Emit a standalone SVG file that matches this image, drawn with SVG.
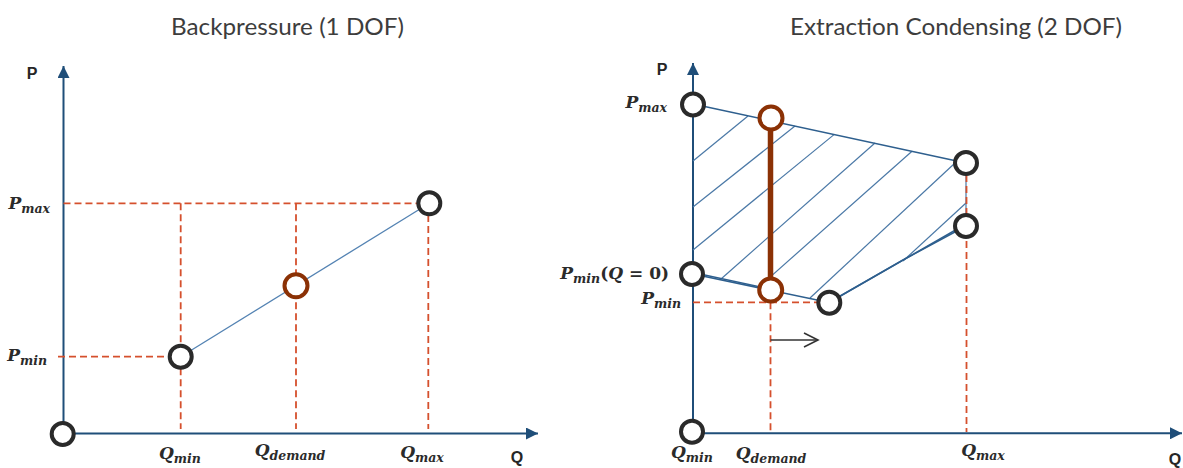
<svg xmlns="http://www.w3.org/2000/svg" width="1183" height="468" viewBox="0 0 1183 468">
<style>
.title{font-family:Lato,"Open Sans",sans-serif;font-size:23.5px;fill:#3d3d3d}
.ax{stroke:#1f4e79;stroke-width:2;fill:none}
.axl{font-family:"Liberation Sans",Arial,sans-serif;font-weight:bold;font-size:16px;fill:#262626}
.m{font-family:"DejaVu Serif",serif;font-weight:bold;font-style:italic;font-size:17px;fill:#2b2b2b}
.s{font-size:12.5px}
.up{font-style:normal}
.dash{stroke:#d5502d;stroke-width:1.8;stroke-dasharray:7 4;fill:none}
.node{fill:#fff;stroke:#2a2a2a;stroke-width:4}
.node-b{fill:#fff;stroke:#8b3105;stroke-width:4}
.edge{stroke:#2e5f8e;stroke-width:1.5;fill:none}
.hatch{stroke:#4a78a6;stroke-width:1.2;fill:none}
.line{stroke:#5483b3;stroke-width:1.3;fill:none}
</style>
<defs>
<marker id="ah" markerUnits="userSpaceOnUse" markerWidth="14" markerHeight="12" refX="12" refY="6" orient="auto">
<path d="M0,0 L12,6 L0,12 z" fill="#1f4e79"/>
</marker>
<marker id="open" markerUnits="userSpaceOnUse" markerWidth="18" markerHeight="18" refX="15" refY="8" orient="auto">
<path d="M1,1 L15,8 L1,15" fill="none" stroke="#333" stroke-width="1.6"/>
</marker>
</defs>

<!-- Titles -->
<text class="title" x="171" y="35" textLength="233" lengthAdjust="spacingAndGlyphs">Backpressure (1 DOF)</text>
<text class="title" x="790" y="35" textLength="332" lengthAdjust="spacingAndGlyphs">Extraction Condensing (2 DOF)</text>

<!-- LEFT CHART -->
<g id="left-axes">
<line class="ax" x1="63.5" y1="434" x2="63.5" y2="66" marker-end="url(#ah)"/>
<line class="ax" x1="63.5" y1="433.5" x2="538" y2="433.5" marker-end="url(#ah)"/>
<text class="axl" x="32" y="79" text-anchor="middle">P</text>
<text class="axl" x="517" y="463" text-anchor="middle">Q</text>
</g>

<g id="left-connectors">
<line class="dash" x1="63.5" y1="203.3" x2="418" y2="203.3"/>
<line class="dash" x1="58" y1="356.7" x2="170" y2="356.7"/>
<line class="dash" x1="180.7" y1="203.3" x2="180.7" y2="429"/>
<line class="dash" x1="296" y1="203.3" x2="296" y2="429"/>
<line class="dash" x1="428.3" y1="215" x2="428.3" y2="429"/>
<line class="line" x1="180.7" y1="356.7" x2="429.3" y2="203.3"/>
</g>

<g id="left-origin"><circle class="node" cx="62.7" cy="434" r="11"/></g>
<g id="left-qmin"><circle class="node" cx="180.7" cy="356.7" r="11"/></g>
<g id="left-qdemand"><circle class="node-b" cx="296" cy="285.7" r="11.5"/></g>
<g id="left-qmax"><circle class="node" cx="429.3" cy="203.3" r="11"/></g>

<g id="left-labels">
<text class="m" x="50" y="209" text-anchor="end">P<tspan class="s" dy="4">max</tspan></text>
<text class="m" x="47" y="361" text-anchor="end">P<tspan class="s" dy="4">min</tspan></text>
<text class="m" x="180" y="459" text-anchor="middle">Q<tspan class="s" dy="4">min</tspan></text>
<text class="m" x="290" y="456" text-anchor="middle">Q<tspan class="s" dy="4">demand</tspan></text>
<text class="m" x="422" y="458" text-anchor="middle">Q<tspan class="s" dy="4">max</tspan></text>
</g>

<!-- RIGHT CHART -->
<g id="right-axes">
<line class="ax" x1="693" y1="432" x2="693" y2="63" marker-end="url(#ah)"/>
<line class="ax" x1="693" y1="433.3" x2="1182" y2="433.3" marker-end="url(#ah)"/>
<text class="axl" x="662" y="75" text-anchor="middle">P</text>
<text class="axl" x="1175" y="465" text-anchor="middle">Q</text>
</g>

<g id="right-region">
<line class="hatch" x1="693" y1="161" x2="748" y2="116"/>
<line class="hatch" x1="693" y1="207" x2="795" y2="126"/>
<line class="hatch" x1="693" y1="250" x2="834" y2="134.6"/>
<line class="hatch" x1="721" y1="279" x2="875" y2="143"/>
<line class="hatch" x1="760" y1="286" x2="912" y2="151.2"/>
<line class="hatch" x1="810" y1="298" x2="955" y2="163"/>
<line class="hatch" x1="903" y1="261" x2="966" y2="203"/>
<line class="edge" x1="693" y1="104" x2="966" y2="163"/>
<line class="hatch" x1="966" y1="163" x2="966" y2="226"/>
<line class="edge" x1="693" y1="274" x2="829" y2="302.5"/>
<line class="edge" x1="693" y1="272.5" x2="770" y2="289" stroke-width="1"/>
<polyline class="edge" points="829,302.5 903,260 966,226" stroke-width="1.3"/>
<line class="edge" x1="829" y1="302.5" x2="966" y2="224" stroke-width="0.9"/>
</g>

<g id="right-connectors">
<line class="dash" x1="693" y1="302.3" x2="820" y2="302.3"/>
<line class="dash" x1="770.5" y1="302.3" x2="770.5" y2="432"/>
<line class="dash" x1="966.5" y1="175" x2="966.5" y2="432"/>
<line x1="770.5" y1="340" x2="818" y2="340" stroke="#333" stroke-width="1.6" marker-end="url(#open)"/>
<line x1="770.5" y1="128" x2="770.5" y2="280" stroke="#8b3105" stroke-width="5.5"/>
</g>

<g id="right-pmax"><circle class="node" cx="693" cy="104.5" r="11"/></g>
<g id="right-pmin0"><circle class="node" cx="692" cy="274" r="11"/></g>
<g id="right-origin"><circle class="node" cx="692" cy="431.7" r="11"/></g>
<g id="right-top-demand"><circle class="node-b" cx="771" cy="118" r="11.5"/></g>
<g id="right-low-demand"><circle class="node-b" cx="770.7" cy="290" r="11.5"/></g>
<g id="right-pmin"><circle class="node" cx="829.3" cy="302.7" r="11"/></g>
<g id="right-qmax-top"><circle class="node" cx="966" cy="163" r="11"/></g>
<g id="right-qmax-low"><circle class="node" cx="966" cy="226" r="11"/></g>

<g id="right-labels">
<text class="m" x="667" y="108" text-anchor="end">P<tspan class="s" dy="4">max</tspan></text>
<text class="m" x="669" y="279" text-anchor="end">P<tspan class="s" dy="4">min</tspan><tspan class="up" dy="-4">(</tspan>Q<tspan class="up"> = 0)</tspan></text>
<text class="m" x="681" y="304" text-anchor="end">P<tspan class="s" dy="4">min</tspan></text>
<text class="m" x="692" y="458" text-anchor="middle">Q<tspan class="s" dy="4">min</tspan></text>
<text class="m" x="771" y="459" text-anchor="middle">Q<tspan class="s" dy="4">demand</tspan></text>
<text class="m" x="983" y="456" text-anchor="middle">Q<tspan class="s" dy="4">max</tspan></text>
</g>
</svg>
